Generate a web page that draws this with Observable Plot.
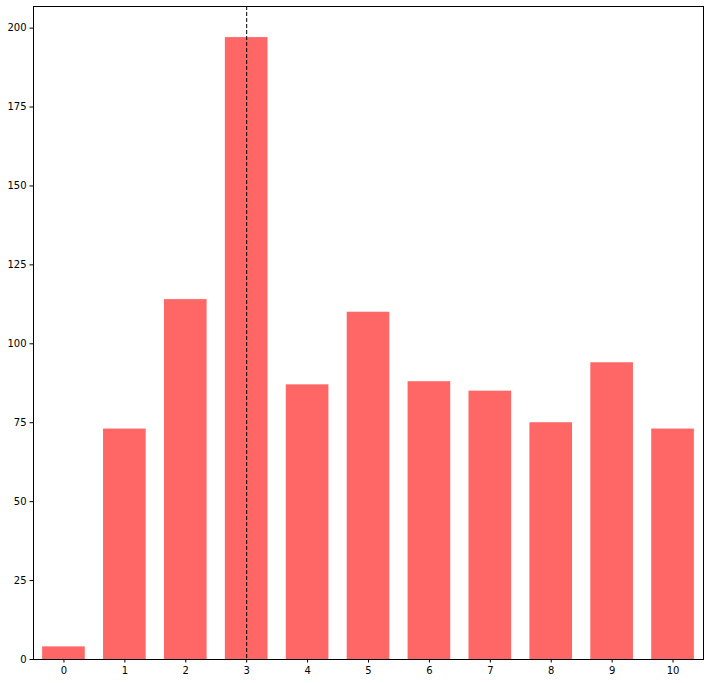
<!DOCTYPE html>
<html>
<head>
<meta charset="utf-8">
<script src="https://cdn.jsdelivr.net/npm/d3@7"></script>
<script src="https://cdn.jsdelivr.net/npm/@observablehq/plot@0.6"></script>
<style>
  html, body { margin: 0; padding: 0; background: #fff; }
</style>
</head>
<body>
<div id="chart"></div>
<script>
const categories = [0, 1, 2, 3, 4, 5, 6, 7, 8, 9, 10];
const counts = [4, 73, 114, 197, 87, 110, 88, 85, 75, 94, 73];
const markerCategory = [3];
const yTicks = [0, 25, 50, 75, 100, 125, 150, 175, 200];

const data = categories.map((c, i) => ({x: c, y: counts[i]}));

const chart = Plot.plot({
  width: 710,
  height: 683,
  marginLeft: 33,
  marginRight: 7,
  marginTop: 6,
  marginBottom: 24,
  style: {fontFamily: "DejaVu Sans", fontSize: "10px", color: "#000", background: "#fff"},
  x: {type: "band", domain: categories, paddingInner: 0.3, paddingOuter: 0.15, round: false, label: null, tickSize: 3.5, tickPadding: 3.5},
  y: {domain: [0, 206.85], ticks: yTicks, label: null, tickSize: 3.5, tickPadding: 3.5},
  marks: [
    Plot.barY(data, {x: "x", y: "y", fill: "#ff6666"}),
    Plot.ruleX(markerCategory, {x: d => d, stroke: "#000", strokeWidth: 1, strokeDasharray: "4,2"}),
    Plot.frame({stroke: "#000", strokeWidth: 1})
  ]
});
document.getElementById("chart").appendChild(chart);
</script>
</body>
</html>
